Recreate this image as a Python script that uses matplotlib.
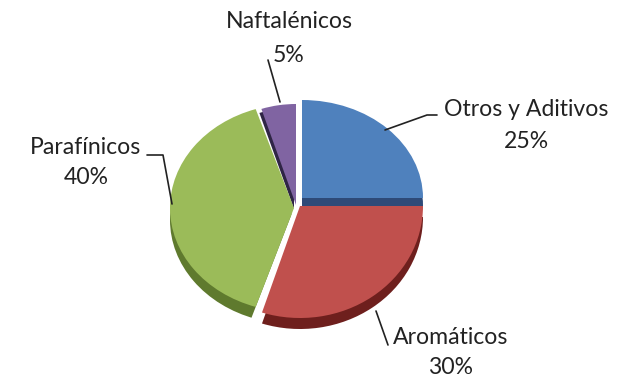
import matplotlib
matplotlib.use("Agg")
import matplotlib.pyplot as plt
from matplotlib.patches import Wedge
from matplotlib.transforms import Affine2D

categories = ["Otros y Aditivos", "Aromáticos", "Parafínicos", "Naftalénicos"]
shares = [25, 30, 40, 5]
face_colors = ["#4F81BD", "#C0504D", "#9BBB59", "#8064A2"]
side_colors = ["#2E4A78", "#6E1F1D", "#5F7A2E", "#2F2545"]

# Per-slice ellipse: centre x, centre y, radius x, radius y, rim shift x, rim shift y, rim kept inside sector
slice_shapes = [
    (302, 198, 121, 98, 0, 8, False),
    (300, 206, 123, 112, 0, 11, True),
    (294, 208, 124, 104, 0, 12, True),
    (296, 205, 112, 101, -2, 4, False),
]
label_pos = [(526, 110, 141), (451, 337, 368), (86, 147, 178), (289, 22, 55)]
leaders = [
    ([385, 427, 437], [130, 115, 115]),
    ([376, 388], [311, 345]),
    ([147, 163, 172], [155, 155, 204]),
    ([268, 280], [60, 102]),
]

fig = plt.figure(figsize=(6.21, 3.78), dpi=100, facecolor="white")
ax = fig.add_axes([0, 0, 1, 1])
ax.set_xlim(0, 621)
ax.set_ylim(378, 0)
ax.axis("off")

# With the y axis pointing down, growing angles run clockwise on screen
starts = []
angle = -90.0
for share in shares:
    starts.append(angle)
    angle += share * 3.6

order = [0, 3, 2, 1]
for i in order:
    cx, cy, rx, ry, sx, sy, keep_inside = slice_shapes[i]
    theta1 = starts[i]
    theta2 = theta1 + shares[i] * 3.6
    face_tr = Affine2D().scale(rx, ry).translate(cx, cy) + ax.transData
    rim_tr = Affine2D().scale(rx, ry).translate(cx + sx, cy + sy) + ax.transData
    rim = Wedge((0, 0), 1, theta1, theta2, facecolor=side_colors[i],
                edgecolor="none", transform=rim_tr)
    ax.add_patch(rim)
    if keep_inside:
        # Limit the rim to the slice's own angular sector so no dark edge shows along the cut
        rim.set_clip_path(Wedge((0, 0), 2, theta1, theta2, transform=face_tr))
    ax.add_patch(Wedge((0, 0), 1, theta1, theta2, facecolor=face_colors[i],
                       edgecolor="none", transform=face_tr))

for xs, ys in leaders:
    ax.plot(xs, ys, color="#222222", lw=1.2, solid_capstyle="round")

for name, share, (x, y1, y2) in zip(categories, shares, label_pos):
    for text, y in ((name, y1), (f"{share}%", y2)):
        ax.text(x, y, text, ha="center", va="center", fontsize=16.6,
                family="Lato", color="#222222")

fig.savefig("out.png", dpi=100)
